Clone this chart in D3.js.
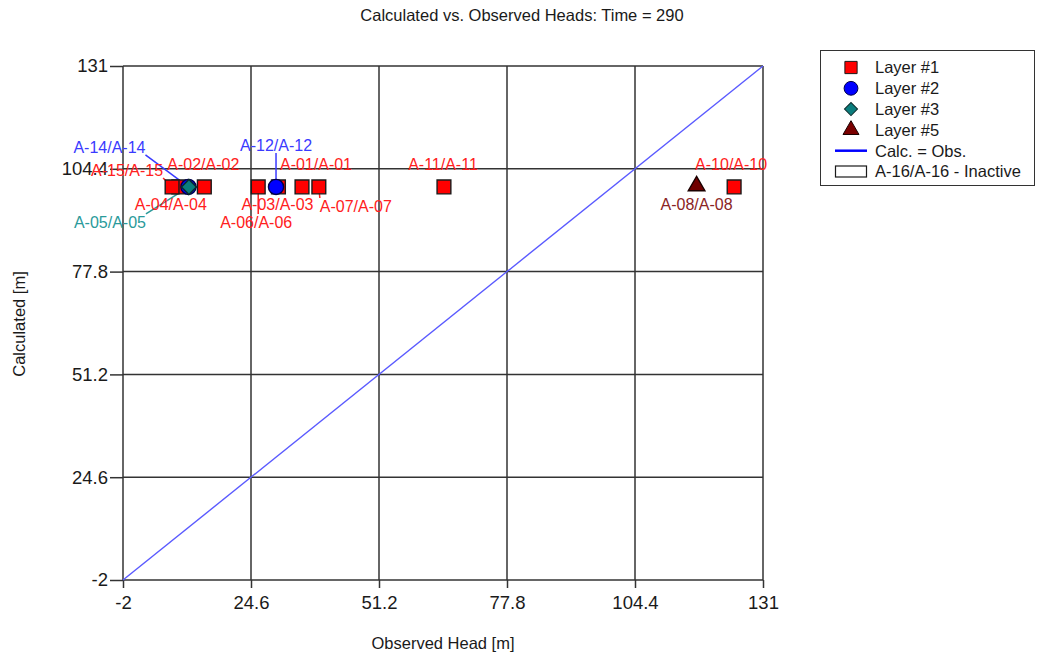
<!DOCTYPE html>
<html>
<head>
<meta charset="utf-8">
<script src="https://cdn.jsdelivr.net/npm/d3@7"></script>
<style>
  html, body { margin: 0; padding: 0; background: #fff; }
  svg { display: block; font-family: "Liberation Sans", Arial, sans-serif; }
</style>
</head>
<body>
<svg id="chart" width="1038" height="658"></svg>
<script>
// Observation wells: id, model layer, observed head, calculated head
const wellIds    = ["A-01", "A-02", "A-03", "A-04", "A-05", "A-06", "A-07", "A-08", "A-10", "A-11", "A-12", "A-14", "A-15"];
const wellLayers = [1, 1, 1, 1, 3, 1, 1, 5, 1, 1, 2, 2, 1];
const observed   = [35.2, 14.9, 30.3, 9.6, 11.7, 26.1, 38.7, 117.2, 125.0, 64.7, 29.8, 11.6, 8.2];
const calculated = [99.7, 99.7, 99.7, 99.7, 99.7, 99.7, 99.7, 99.7, 99.7, 99.7, 99.7, 99.7, 99.7];

const inactiveWells = ["A-16"];
const legendLayers  = [1, 2, 3, 5];

const axisTicks      = [-2, 24.6, 51.2, 77.8, 104.4, 131];
const axisTickLabels = ["-2", "24.6", "51.2", "77.8", "104.4", "131"];
const axisDomain     = [-2, 131];

const chartTitle = "Calculated vs. Observed Heads: Time = 290";
const xTitle = "Observed Head [m]";
const yTitle = "Calculated [m]";

// Label placement (pixel offset of the label centre from its marker), per well
const labelOffset = {
  "A-01": [14, -23], "A-02": [-1, -23], "A-03": [-1, 17], "A-04": [-8, 17],
  "A-05": [-79, 35], "A-06": [-2, 35], "A-07": [37, 19], "A-08": [0, 17],
  "A-10": [-3, -23], "A-11": [-1, -23], "A-12": [0, -42], "A-14": [-79, -40],
  "A-15": [-45, -17]
};

// Symbol and colour per layer (layer 3 is a square turned 45 degrees)
const layerStyle = {
  1: { shape: d3.symbolSquare,   size: 190, rot: 0,  fill: "#ff0000", stroke: "#1a1a1a", text: "#ff2020" },
  2: { shape: d3.symbolCircle,   size: 180, rot: 0,  fill: "#0000ff", stroke: "#00004a", text: "#3a3aff" },
  3: { shape: d3.symbolSquare,   size: 112, rot: 45, fill: "#0a7d7d", stroke: "#0a2a2a", text: "#2a9a9a" },
  5: { shape: d3.symbolTriangle, size: 120, rot: 0,  fill: "#700000", stroke: "#1a0000", text: "#8a2424" }
};

const wells = wellIds.map((id, i) => ({
  id, layer: wellLayers[i], obs: observed[i], calc: calculated[i]
}));

const svg = d3.select("#chart");
const x = d3.scaleLinear().domain(axisDomain).range([123, 763]);
const y = d3.scaleLinear().domain(axisDomain).range([580, 66]);

// Title
svg.append("text")
  .attr("x", 522).attr("y", 21)
  .attr("text-anchor", "middle")
  .attr("font-size", 16.5).attr("fill", "#1a1a1a")
  .text(chartTitle);

// Grid
const grid = svg.append("g").attr("stroke", "#333").attr("stroke-width", 1.5);
grid.selectAll("line.v").data(axisTicks).join("line")
  .attr("class", "v")
  .attr("x1", d => x(d)).attr("x2", d => x(d))
  .attr("y1", y(axisDomain[0])).attr("y2", y(axisDomain[1]));
grid.selectAll("line.h").data(axisTicks).join("line")
  .attr("class", "h")
  .attr("y1", d => y(d)).attr("y2", d => y(d))
  .attr("x1", x(axisDomain[0])).attr("x2", x(axisDomain[1]));

// Axes
const fmt = (d, i) => axisTickLabels[i];
const xAxis = svg.append("g")
  .attr("transform", `translate(0,${y(axisDomain[0])})`)
  .call(d3.axisBottom(x).tickValues(axisTicks).tickFormat(fmt).tickSizeInner(8).tickSizeOuter(0).tickPadding(8));
const yAxis = svg.append("g")
  .attr("transform", `translate(${x(axisDomain[0])},0)`)
  .call(d3.axisLeft(y).tickValues(axisTicks).tickFormat(fmt).tickSizeInner(13).tickSizeOuter(0).tickPadding(2));
[xAxis, yAxis].forEach(a => {
  a.select(".domain").remove();
  a.selectAll(".tick line").attr("stroke", "#333").attr("stroke-width", 1.5);
  a.selectAll(".tick text").attr("font-size", 18.5).attr("fill", "#1a1a1a")
    .attr("font-family", "Liberation Sans, Arial, sans-serif");
});

// Axis titles
svg.append("text")
  .attr("x", 443).attr("y", 649)
  .attr("text-anchor", "middle").attr("font-size", 16.5).attr("fill", "#1a1a1a")
  .text(xTitle);
svg.append("text")
  .attr("transform", "translate(25,324) rotate(-90)")
  .attr("text-anchor", "middle").attr("font-size", 16.5).attr("fill", "#1a1a1a")
  .text(yTitle);

// 1:1 line
svg.append("line")
  .attr("x1", x(axisDomain[0])).attr("y1", y(axisDomain[0]))
  .attr("x2", x(axisDomain[1])).attr("y2", y(axisDomain[1]))
  .attr("stroke", "#5a5aff").attr("stroke-width", 1.4);

// Label geometry
const fontSize = 16;
const ctx = document.createElement("canvas").getContext("2d");
ctx.font = `${fontSize}px "Liberation Sans", Arial, sans-serif`;
const labelBoxes = wells.map(w => {
  const text = `${w.id}/${w.id}`;
  const px = x(w.obs), py = y(w.calc);
  const [dx, dy] = labelOffset[w.id];
  const cx = px + dx, cy = py + dy;
  const wd = ctx.measureText(text).width;
  const box = { x0: cx - wd / 2, x1: cx + wd / 2, y0: cy - 8, y1: cy + 8 };
  const leader = Math.abs(dx) > 20 || Math.abs(dy) > 30;
  return { w, text, px, py, cx, cy, box, leader };
});

// Leader lines, beneath the markers
svg.append("g").selectAll("line")
  .data(labelBoxes.filter(d => d.leader)).join("line")
  .attr("x1", d => d.px).attr("y1", d => d.py)
  .attr("x2", d => Math.max(d.box.x0, Math.min(d.px, d.box.x1)))
  .attr("y2", d => Math.max(d.box.y0, Math.min(d.py, d.box.y1)))
  .attr("stroke", d => layerStyle[d.w.layer].text).attr("stroke-width", 1.5);

// Markers, drawn layer by layer
const markers = svg.append("g");
[1, 2, 3, 5].forEach(layer => {
  const st = layerStyle[layer];
  markers.selectAll(`path.l${layer}`)
    .data(wells.filter(w => w.layer === layer)).join("path")
    .attr("class", `l${layer}`)
    .attr("transform", d => `translate(${x(d.obs)},${y(d.calc) - (layer === 5 ? 1 : 0)}) rotate(${st.rot})`)
    .attr("d", d3.symbol(st.shape, st.size))
    .attr("fill", st.fill).attr("stroke", st.stroke).attr("stroke-width", 1.4);
});

// Well labels
svg.append("g").selectAll("text")
  .data(labelBoxes).join("text")
  .attr("x", d => d.cx).attr("y", d => d.cy)
  .attr("dy", "0.36em")
  .attr("text-anchor", "middle")
  .attr("font-size", fontSize)
  .attr("fill", d => layerStyle[d.w.layer].text)
  .text(d => d.text);

// Legend
const lg = svg.append("g");
lg.append("rect")
  .attr("x", 820.5).attr("y", 50.5).attr("width", 214).attr("height", 135)
  .attr("fill", "#fff").attr("stroke", "#333").attr("stroke-width", 1);
const rowY = i => 67.5 + i * 20.8;
const legendSize = { 1: 150, 2: 150, 3: 85, 5: 110 };
legendLayers.forEach((layer, i) => {
  const st = layerStyle[layer];
  lg.append("path")
    .attr("transform", `translate(851,${rowY(i)}) rotate(${st.rot})`)
    .attr("d", d3.symbol(st.shape, legendSize[layer]))
    .attr("fill", layer === 5 ? "#7a0000" : st.fill)
    .attr("stroke", st.stroke).attr("stroke-width", 1);
  lg.append("text")
    .attr("x", 875).attr("y", rowY(i)).attr("dy", "0.36em")
    .attr("font-size", 16.5).attr("fill", "#1a1a1a")
    .text(`Layer #${layer}`);
});
lg.append("line")
  .attr("x1", 835).attr("x2", 867).attr("y1", rowY(4)).attr("y2", rowY(4))
  .attr("stroke", "#0000ff").attr("stroke-width", 2.5);
lg.append("text")
  .attr("x", 875).attr("y", rowY(4)).attr("dy", "0.36em")
  .attr("font-size", 16.5).attr("fill", "#1a1a1a")
  .text("Calc. = Obs.");
lg.append("rect")
  .attr("x", 835.5).attr("y", rowY(5) - 5.5).attr("width", 31).attr("height", 11)
  .attr("fill", "#fff").attr("stroke", "#1a1a1a").attr("stroke-width", 1.2);
lg.append("text")
  .attr("x", 875).attr("y", rowY(5)).attr("dy", "0.36em")
  .attr("font-size", 16.5).attr("fill", "#1a1a1a")
  .text(`${inactiveWells[0]}/${inactiveWells[0]} - Inactive`);
</script>
</body>
</html>
